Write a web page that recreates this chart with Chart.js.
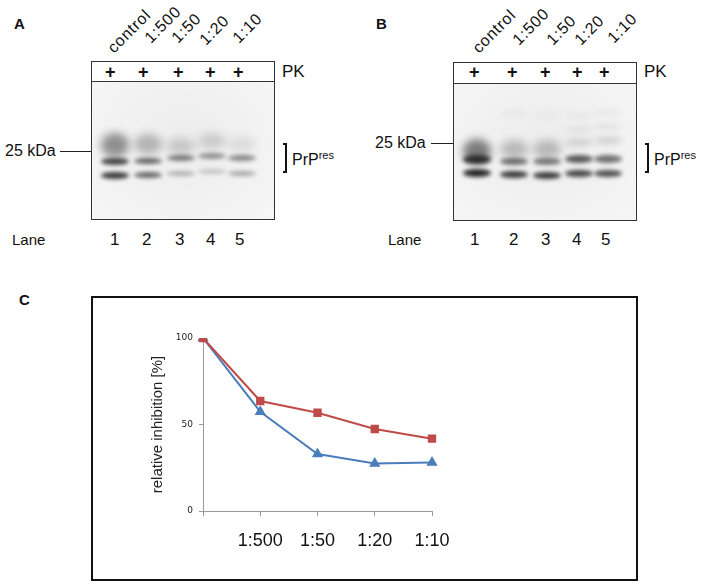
<!DOCTYPE html>
<html>
<head>
<meta charset="utf-8">
<script src="https://cdn.jsdelivr.net/npm/chart.js@4/dist/chart.umd.min.js"></script>
<style>
  body { margin: 0; background: #fff; font-family: Arial, "Liberation Sans", sans-serif; }
  #page { position: relative; width: 709px; height: 588px; overflow: hidden; }
  .t { position: absolute; white-space: nowrap; color: #111; line-height: 1; }
  .rot { transform-origin: 0 100%; transform: rotate(-45deg); font-size: 16px; letter-spacing: 0.8px; }
  .hdr { position: absolute; border: 1.5px solid #333; background: #fff; box-sizing: border-box; }
  .blot { position: absolute; border: 1.5px solid #333; box-sizing: border-box; overflow: hidden;
          background: radial-gradient(ellipse at 50% 45%, #ececec 0%, #f2f2f2 60%, #f6f6f6 100%); }
  .band { position: absolute; border-radius: 50%; background: #1a1a1a; }
  .brk { position: absolute; border: 2px solid #111; border-left: none; width: 4px; height: 30px; box-sizing: border-box; }
  .line { position: absolute; height: 1px; background: #222; }
  #boxC { position: absolute; left: 91px; top: 296px; width: 547px; height: 285px; border: 2px solid #111; box-sizing: border-box; }
  #chartC { position: absolute; left: 0; top: 0; }
</style>
</head>
<body>
<div id="page">
  <div class="t" style="left:14px;top:16px;font-size:15px;font-weight:bold">A</div>
  <div class="t" style="left:376px;top:16px;font-size:15px;font-weight:bold">B</div>
  <div class="t" style="left:19px;top:292px;font-size:15px;font-weight:bold">C</div>
  <div id="boxC"><canvas id="chartC" width="543" height="281"></canvas></div>
</div>

<script>
// treatment labels above the lanes
const laneLabels = ['control', '1:500', '1:50', '1:20', '1:10'];
const laneNumbers = [1, 2, 3, 4, 5];

// panel C values (relative inhibition, %)
const dilutions = ['', '1:500', '1:50', '1:20', '1:10'];
const redSeries = [100, 63.6, 56.8, 47.4, 41.8];
const blueSeries = [100, 57.4, 32.9, 27.5, 28.1];
const yTicks = [0, 50, 100];

// blot bands: [lane, y centre, height, opacity, blur]
const bandsA = [
  [0, 144, 24, 0.45, 4], [0, 160, 7, 0.8, 2], [0, 174, 7, 0.85, 2],
  [1, 143, 20, 0.28, 4], [1, 160, 6, 0.65, 2], [1, 174, 6, 0.65, 2],
  [2, 145, 16, 0.18, 4], [2, 157, 6, 0.55, 2], [2, 172, 5, 0.3, 2],
  [3, 140, 16, 0.16, 4], [3, 155, 6, 0.45, 2], [3, 170, 5, 0.2, 2],
  [4, 143, 14, 0.1, 4], [4, 157, 6, 0.5, 2], [4, 172, 5, 0.35, 2]
];
const bandsB = [
  [0, 150, 24, 0.55, 4], [0, 158, 9, 0.85, 2], [0, 172, 8, 0.95, 2],
  [1, 148, 18, 0.25, 4], [1, 160, 7, 0.6, 2], [1, 173, 7, 0.85, 2],
  [2, 148, 18, 0.25, 4], [2, 160, 7, 0.55, 2], [2, 174, 7, 0.85, 2],
  [1, 112, 4, 0.06, 3], [2, 114, 4, 0.06, 3],
  [3, 115, 4, 0.07, 3], [3, 128, 5, 0.09, 3], [3, 141, 7, 0.16, 3], [3, 158, 8, 0.7, 2], [3, 172, 7, 0.8, 2],
  [4, 112, 4, 0.07, 3], [4, 125, 5, 0.09, 3], [4, 139, 7, 0.16, 3], [4, 158, 8, 0.6, 2], [4, 172, 7, 0.75, 2]
];

const page = document.getElementById('page');
function add(cls, style, text) {
  const d = document.createElement('div');
  d.className = cls;
  d.setAttribute('style', style);
  if (text !== undefined) d.innerHTML = text;
  page.appendChild(d);
  return d;
}

function drawBlot(p) {
  add('hdr', `left:${p.x}px;top:${p.top}px;width:${p.w}px;height:${p.hdrH + 1.5}px`);
  const blot = add('blot', `left:${p.x}px;top:${p.top + p.hdrH}px;width:${p.w}px;height:${p.h}px`);
  p.bands.forEach(b => {
    const cx = p.lanes[b[0]] - p.x, cy = b[1] - p.top - p.hdrH;
    const d = document.createElement('div');
    d.className = 'band';
    d.setAttribute('style', `left:${cx - 14}px;top:${cy - b[2] / 2}px;width:28px;height:${b[2]}px;opacity:${b[3]};filter:blur(${b[4]}px)`);
    blot.appendChild(d);
  });
  laneLabels.forEach((s, i) => {
    add('t rot', `left:${p.labelPos[i][0]}px;top:${p.labelPos[i][1] - 16}px`, s);
  });
  p.plus.forEach(x => add('t', `left:${x - 6}px;top:63px;font-size:18px;font-weight:bold`, '+'));
  add('t', `left:${p.x + p.w + 7}px;top:63px;font-size:17px`, 'PK');
  laneNumbers.forEach((n, i) => add('t', `left:${p.nums[i] - 5}px;top:231px;font-size:17px`, n));
  add('t', `left:${p.laneX}px;top:232px;font-size:15px`, 'Lane');
  add('t', `left:${p.kda[0]}px;top:${p.kda[1] - 8}px;font-size:16px`, '25 kDa');
  add('line', `left:${p.kda[2]}px;top:${p.kda[1]}px;width:${p.x - p.kda[2]}px`);
  add('brk', `left:${p.x + p.w + 8}px;top:143px`);
  add('t', `left:${p.x + p.w + 17}px;top:150px;font-size:16px`, 'PrP<sup style="font-size:11px;vertical-align:6px">res</sup>');
}

drawBlot({
  x: 91, top: 61, w: 184, hdrH: 20, h: 139,
  lanes: [114, 147, 180, 211, 241], bands: bandsA,
  labelPos: [[116, 56], [153, 46], [180, 46], [208, 48], [241, 46]],
  plus: [111, 144, 179, 211, 239], nums: [115, 147, 180, 211, 240],
  laneX: 12, kda: [5, 151, 60]
});
drawBlot({
  x: 453, top: 62, w: 184, hdrH: 21, h: 138,
  lanes: [476, 513, 546, 578, 607], bands: bandsB,
  labelPos: [[481, 56], [521, 48], [555, 48], [583, 48], [616, 46]],
  plus: [475, 513, 546, 578, 605], nums: [475, 514, 546, 577, 606],
  laneX: 388, kda: [375, 143, 431]
});

new Chart(document.getElementById('chartC').getContext('2d'), {
  type: 'line',
  data: {
    labels: dilutions,
    datasets: [
      { data: redSeries, borderColor: '#be4b48', backgroundColor: '#be4b48', pointStyle: 'rect',
        pointRadius: 4.5, borderWidth: 2, tension: 0 },
      { data: blueSeries, borderColor: '#4a7ebb', backgroundColor: '#4a7ebb', pointStyle: 'triangle',
        pointRadius: 4.5, borderWidth: 2, tension: 0 }
    ]
  },
  options: {
    responsive: false,
    animation: false,
    layout: { padding: { left: 56, top: 40, right: 204, bottom: 0 } },
    plugins: { legend: { display: false }, tooltip: { enabled: false } },
    scales: {
      x: {
        offset: false,
        grid: { drawOnChartArea: false, tickLength: 5, color: '#999' },
        border: { color: '#999' },
        ticks: { font: { size: 18, family: 'Arial' }, color: '#111', padding: 14, maxRotation: 0, autoSkip: false },
        afterFit(s) { s.height = 68; }
      },
      y: {
        min: 0, max: 100,
        afterBuildTicks(s) { s.ticks = yTicks.map(v => ({ value: v })); },
        grid: { drawOnChartArea: false, tickLength: 4, color: '#999' },
        border: { color: '#999' },
        ticks: { font: { size: 9, family: 'DejaVu Sans' }, color: '#222', padding: 6 },
        title: { display: true, text: 'relative inhibition [%]', font: { size: 15, family: 'Arial' }, color: '#222', padding: 0 },
        afterFit(s) { s.width = 54; }
      }
    }
  }
});
</script>
</body>
</html>
